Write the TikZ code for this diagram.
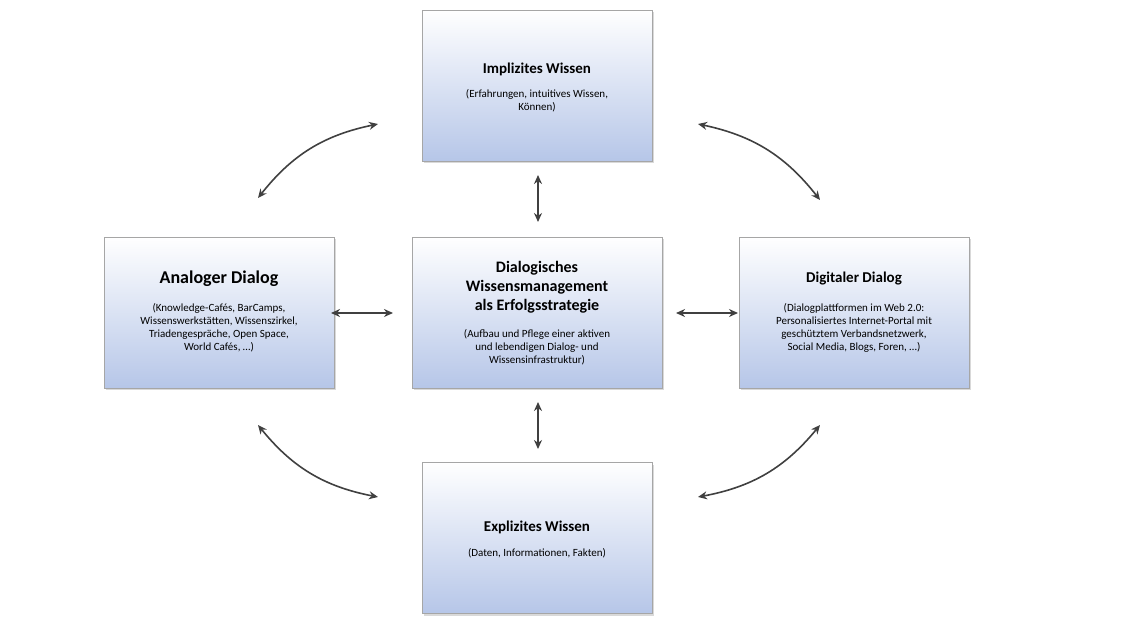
\documentclass[tikz,border=0pt]{standalone}
\usepackage{fontspec}
\setmainfont{Carlito}
\usetikzlibrary{arrows.meta,shadows}
\definecolor{boxblue}{RGB}{182,198,232}
\tikzset{
  box/.style={draw=gray!70,top color=white,bottom color=boxblue,
    minimum width=230pt,minimum height=151pt,align=center,
    drop shadow={shadow xshift=2pt,shadow yshift=-2pt,opacity=0.3}},
  link/.style={{Stealth[length=9pt,width=8pt]}-{Stealth[length=9pt,width=8pt]},
    line width=1.6pt,draw=black!75},
  head/.style={align=center,font=\bfseries\fontsize{15}{18}\selectfont},
  body/.style={align=center,font=\fontsize{11}{13}\selectfont}
}
\begin{document}
\begin{tikzpicture}[x=1pt,y=-1pt]
  \useasboundingbox (0,0) rectangle (1136,626);
  \node[box] (impl) at (537,85.5) {};
  \node[box] (anal) at (219,312.5) {};
  \node[box,minimum width=250pt] (dial) at (537,312.5) {};
  \node[box] (digi) at (854,312.5) {};
  \node[box] (expl) at (537,538) {};
  % texts
  \node[head] at (537,69) {Implizites Wissen};
  \node[body] at (537,101) {(Erfahrungen, intuitives Wissen,\\Können)};
  \node[head,font=\bfseries\fontsize{18}{21}\selectfont] at (219,279) {Analoger Dialog};
  \node[body] at (219,328) {(Knowledge-Cafés, BarCamps,\\Wissenswerkstätten, Wissenszirkel,\\Triadengespräche, Open Space,\\World Cafés, \dots)};
  \node[head,font=\bfseries\fontsize{16}{19}\selectfont] at (537,287) {Dialogisches\\Wissensmanagement\\als Erfolgsstrategie};
  \node[body] at (537,347) {(Aufbau und Pflege einer aktiven\\und lebendigen Dialog- und\\Wissensinfrastruktur)};
  \node[head] at (854,279) {Digitaler Dialog};
  \node[body] at (854,328) {(Dialogplattformen im Web 2.0:\\Personalisiertes Internet-Portal mit\\geschütztem Verbandsnetzwerk,\\Social Media, Blogs, Foren, \dots)};
  \node[head] at (537,527) {Explizites Wissen};
  \node[body] at (537,553) {(Daten, Informationen, Fakten)};
  % free arrow ends
  \coordinate (tl1) at (258,198); \coordinate (tl2) at (378,124);
  \coordinate (tr1) at (698,124); \coordinate (tr2) at (820,200);
  \coordinate (bl1) at (258,425); \coordinate (bl2) at (378,497);
  \coordinate (br1) at (698,497); \coordinate (br2) at (820,425);
  \coordinate (c1) at (538,175); \coordinate (c2) at (538,222);
  \coordinate (c3) at (538,402); \coordinate (c4) at (538,449);
  \coordinate (h1) at (331,313); \coordinate (h2) at (393,313);
  \coordinate (h3) at (676,313); \coordinate (h4) at (738,313);
  \draw[link] (tl1) to[bend left=20] (tl2);
  \draw[link] (tr1) to[bend left=20] (tr2);
  \draw[link] (bl1) to[bend right=20] (bl2);
  \draw[link] (br1) to[bend right=20] (br2);
  \draw[link] (c1) -- (c2);
  \draw[link] (c3) -- (c4);
  \draw[link] (h1) -- (h2);
  \draw[link] (h3) -- (h4);
\end{tikzpicture}
\end{document}
